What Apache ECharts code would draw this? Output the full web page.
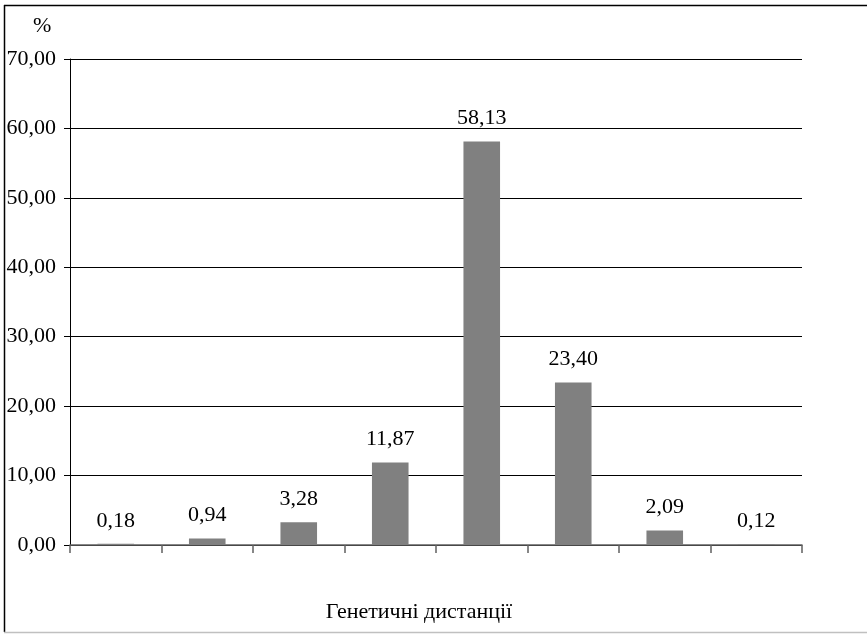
<!DOCTYPE html>
<html>
<head>
<meta charset="utf-8">
<script src="https://cdn.jsdelivr.net/npm/echarts@6/dist/echarts.min.js"></script>
<style>
  html, body { margin: 0; padding: 0; background: #ffffff; }
  #chart { width: 867px; height: 634px; }
</style>
</head>
<body>
<div id="chart"></div>
<script>
// Distance classes (not labelled on the axis) and their share in percent
const categories = ['1', '2', '3', '4', '5', '6', '7', '8'];
const shares = [0.18, 0.94, 3.28, 11.87, 58.13, 23.40, 2.09, 0.12];
const yTicks = { min: 0, max: 70, step: 10 };
const axisTitle = 'Генетичні дистанції';
const unitLabel = '%';

const FONT = '"Liberation Serif", "DejaVu Serif", serif';
const FS = 22;
const fmt = v => Number(v).toFixed(2).replace('.', ',');

const chart = echarts.init(document.getElementById('chart'), null, { renderer: 'canvas' });

chart.setOption({
  backgroundColor: '#ffffff',
  animation: false,
  grid: { left: 70, right: 65, top: 59, bottom: 89, containLabel: false },
  xAxis: {
    type: 'category',
    data: categories,
    boundaryGap: true,
    axisLine: { show: true, lineStyle: { color: '#606060', width: 1.5 } },
    axisTick: { show: true, length: 8, alignWithLabel: false, lineStyle: { color: '#606060', width: 1.5 } },
    axisLabel: { show: false },
    splitLine: { show: false }
  },
  yAxis: {
    type: 'value',
    min: yTicks.min,
    max: yTicks.max,
    interval: yTicks.step,
    axisLine: { show: true, lineStyle: { color: '#000000', width: 1 } },
    axisTick: { show: true, length: 6, lineStyle: { color: '#000000', width: 1 } },
    axisLabel: {
      margin: 14,
      color: '#000000',
      fontFamily: FONT,
      fontSize: FS,
      formatter: fmt
    },
    splitLine: { show: true, lineStyle: { color: '#000000', width: 1.2 } }
  },
  series: [{
    type: 'bar',
    data: shares,
    barWidth: '40%',
    itemStyle: { color: '#808080' },
    label: {
      show: true,
      position: 'top',
      distance: 12,
      color: '#000000',
      fontFamily: FONT,
      fontSize: FS,
      formatter: p => fmt(p.value)
    }
  }],
  graphic: [
    { type: 'line', shape: { x1: 4.5, y1: 5, x2: 4.5, y2: 632 }, style: { stroke: '#000000', lineWidth: 1.5 } },
    { type: 'line', shape: { x1: 4, y1: 5.5, x2: 867, y2: 5.5 }, style: { stroke: '#000000', lineWidth: 1.5 } },
    { type: 'line', shape: { x1: 4, y1: 632.5, x2: 867, y2: 632.5 }, style: { stroke: '#c0c0c0', lineWidth: 1.5 } },
    {
      type: 'text', left: 33, top: 15,
      style: { text: unitLabel, font: FS + 'px ' + FONT, fill: '#000000' }
    },
    {
      type: 'text', x: 419, y: 612,
      style: { text: axisTitle, font: FS + 'px ' + FONT, fill: '#000000', align: 'center', verticalAlign: 'middle' }
    }
  ]
});
</script>
</body>
</html>
